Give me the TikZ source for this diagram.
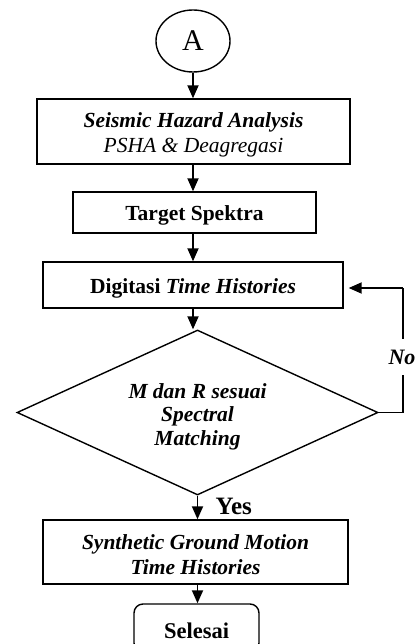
\documentclass[tikz,border=0pt]{standalone}
\usepackage{fontspec}
\setmainfont{Liberation Serif}
\usetikzlibrary{shapes.geometric,arrows.meta}
\newcommand{\topstrut}[1]{\rule{0pt}{#1}}
\begin{document}
\begin{tikzpicture}[x=1pt,y=-1pt,
  txt/.style={font=\fontsize{21.5}{25}\selectfont, align=center},
  boxnode/.style={draw, line width=1.4pt, txt, inner sep=0pt},
  arr/.style={line width=1.8pt, -{Triangle[length=13pt,width=11pt]}},
  loopline/.style={line width=1.4pt}]
\clip (0,0) rectangle (417,644);
\useasboundingbox (0,0) rectangle (417,644);
\node[draw, line width=1.4pt, ellipse, minimum width=74pt, minimum height=62pt, inner sep=0pt,
  font=\fontsize{30}{32}\selectfont] (A) at (193,41) {A};
\node[boxnode, minimum width=313pt, minimum height=65pt] (b1) at (193.5,131.5)
  {\topstrut{21pt}\textbf{\textit{Seismic Hazard Analysis}}\\\textit{PSHA \& Deagregasi}};
\node[boxnode, minimum width=243pt, minimum height=41pt] (b2) at (194.5,212.5)
  {\topstrut{21pt}\textbf{Target Spektra}};
\node[boxnode, minimum width=300pt, minimum height=46pt] (b3) at (193,285)
  {\topstrut{22pt}\textbf{Digitasi \textit{Time Histories}}};
\node[draw, line width=1.4pt, diamond, shape aspect=2.19, minimum width=361pt, minimum height=165pt, inner sep=0pt,
  font=\fontsize{21.5}{23.5}\selectfont\bfseries\itshape, align=center] (d) at (197.5,412.5)
  {\topstrut{23pt}M dan R sesuai\\Spectral\\Matching};
\node[boxnode, minimum width=305pt, minimum height=64pt] (b4) at (195.5,552)
  {\topstrut{21pt}\textbf{\textit{Synthetic Ground Motion}}\\\textbf{\textit{Time Histories}}};
\node[draw, line width=1.4pt, rounded corners=9pt, minimum width=125pt, minimum height=48pt,
  inner sep=0pt, text height=20pt, text depth=0pt, font=\fontsize{22.5}{24}\selectfont\bfseries] (e) at (196.5,628)
  {Selesai};
\draw[arr] (A.south) -- (A.south |- b1.north);
\draw[arr] (b1.south -| A.south) -- (A.south |- b2.north);
\draw[arr] (b2.south -| A.south) -- (A.south |- b3.north);
\draw[arr] (b3.south -| A.south) -- (A.south |- d.north);
\draw[arr] (d.south) -- (d.south |- b4.north)
  node[pos=0.45, right=14pt, font=\fontsize{25}{27}\selectfont\bfseries] (yes) {Yes};
\draw[arr] (b4.south -| d.south) -- (d.south |- e.north);
\coordinate (n1) at (403,412.5);
\coordinate (n2) at (403,288);
\draw[loopline] (d.east) -- (n1) -- (n2);
\draw[arr, shorten >=5pt] (n2) -- (b3.east |- n2);
\node[fill=white, inner xsep=1pt, inner ysep=11pt, font=\fontsize{22}{24}\selectfont\bfseries\itshape]
  (no) at (402,357) {No};
\end{tikzpicture}
\end{document}
